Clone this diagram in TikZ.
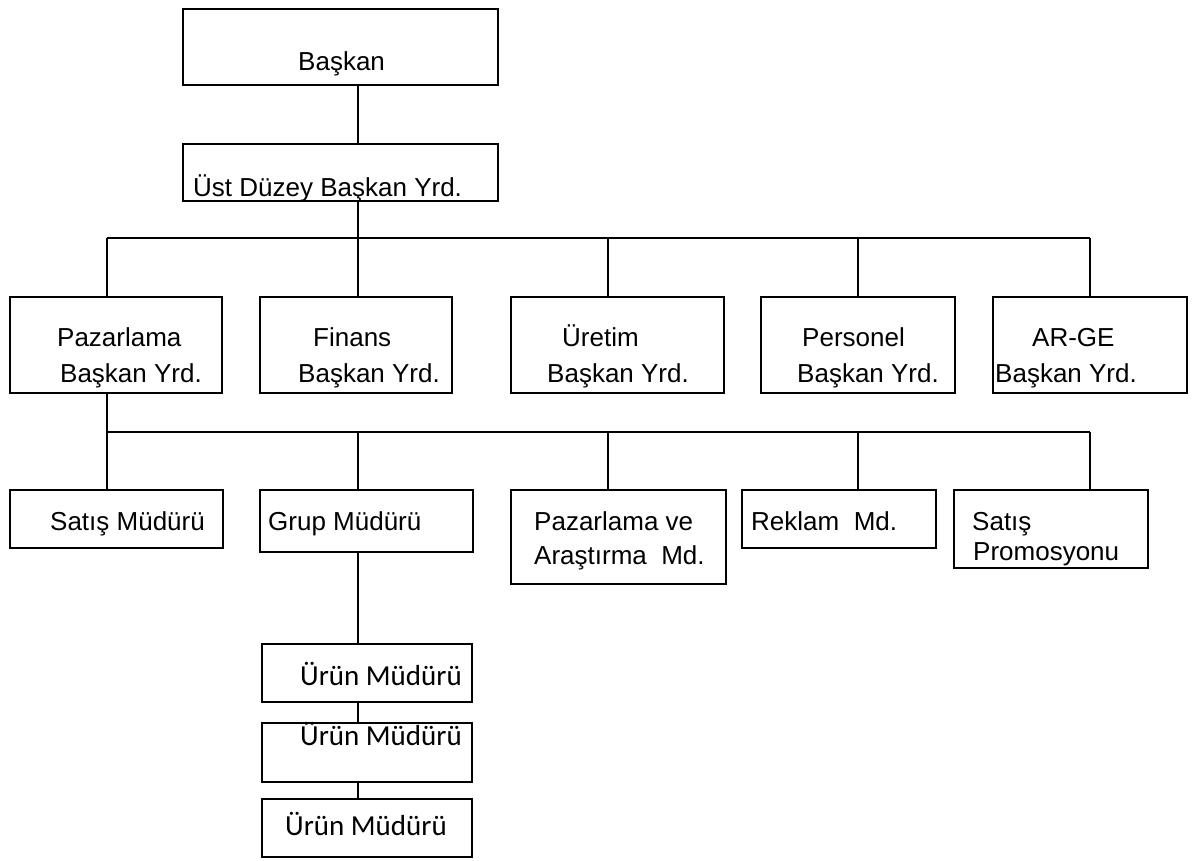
\documentclass[tikz,border=0pt]{standalone}
\usepackage{fontspec}
\setmainfont{Liberation Sans}
\newfontfamily\calibrifont{Carlito}
\usetikzlibrary{fit}
\begin{document}
\begin{tikzpicture}[x=1pt,y=-1pt,
  box/.style={draw, line width=2pt, rectangle, inner sep=0pt},
  lbl/.style={anchor=base west, inner sep=0pt, font=\fontsize{26}{30}\selectfont},
  lblc/.style={anchor=base west, inner sep=0pt, font=\calibrifont\fontsize{29}{32}\selectfont},
  link/.style={line width=2pt}]
\useasboundingbox (0,0) rectangle (1194,860);

% boxes
\node[box, fit={(183,9) (498,85)}]     (bas) {};
\node[box, fit={(183,144) (498,201)}]  (ust) {};
\node[box, fit={(10,297) (222,393)}]   (paz) {};
\node[box, fit={(260,297) (452,393)}]  (fin) {};
\node[box, fit={(511,297) (724,393)}]  (ure) {};
\node[box, fit={(761,297) (955,393)}]  (per) {};
\node[box, fit={(993,297) (1187,393)}] (arg) {};
\node[box, fit={(10,490) (223,548)}]   (sat) {};
\node[box, fit={(260,490) (473,552)}]  (grp) {};
\node[box, fit={(511,490) (726,584)}]  (pva) {};
\node[box, fit={(742,490) (936,548)}]  (rek) {};
\node[box, fit={(954,490) (1148,568)}] (pro) {};
\node[box, fit={(262,644) (472,702)}]  (ur1) {};
\node[box, fit={(262,723) (472,782)}]  (ur2) {};
\node[box, fit={(262,799) (472,857)}]  (ur3) {};

% labels
\node[lbl] (tbas) at (298,70) {Başkan};
\node[lbl] (tust) at (193,196) {Üst Düzey Başkan Yrd.};
\node[lbl] (tpaz1) at (57,346) {Pazarlama};
\node[lbl] (tpaz2) at (60,382) {Başkan Yrd.};
\node[lbl] (tfin1) at (313,346) {Finans};
\node[lbl] (tfin2) at (298,382) {Başkan Yrd.};
\node[lbl] (ture1) at (562,346) {Üretim};
\node[lbl] (ture2) at (547,382) {Başkan Yrd.};
\node[lbl] (tper1) at (802,346) {Personel};
\node[lbl] (tper2) at (797,382) {Başkan Yrd.};
\node[lbl] (targ1) at (1032,346) {AR-GE};
\node[lbl] (targ2) at (995,382) {Başkan Yrd.};
\node[lbl] (tsat) at (50,530) {Satış Müdürü};
\node[lbl] (tgrp) at (268,530) {Grup Müdürü};
\node[lbl] (tpva1) at (534,530) {Pazarlama ve};
\node[lbl] (tpva2) at (534,564) {Araştırma\ \ Md.};
\node[lbl] (trek) at (751,530) {Reklam\ \ Md.};
\node[lbl] (tpro1) at (972,530) {Satış};
\node[lbl] (tpro2) at (973,560) {Promosyonu};
\node[lblc] (tur1) at (300,685) {Ürün Müdürü};
\node[lblc] (tur2) at (300,745) {Ürün Müdürü};
\node[lblc] (tur3) at (285,835) {Ürün Müdürü};

% bus points
\coordinate (b1) at (107,238);
\coordinate (b2) at (358,238);
\coordinate (b3) at (608,238);
\coordinate (b4) at (858,238);
\coordinate (b5) at (1090,238);
\coordinate (d1) at (107,432);
\coordinate (d2) at (358,432);
\coordinate (d3) at (608,432);
\coordinate (d4) at (858,432);
\coordinate (d5) at (1090,432);

% connectors
\draw[link] (bas.south -| b2) -- (ust.north -| b2);
\draw[link] (ust.south -| b2) -- (b2);
\draw[link] (b1) -- (b5);
\draw[link] (b1) -- (paz.north -| b1);
\draw[link] (b2) -- (fin.north -| b2);
\draw[link] (b3) -- (ure.north -| b3);
\draw[link] (b4) -- (per.north -| b4);
\draw[link] (b5) -- (arg.north -| b5);
\draw[link] (paz.south -| d1) -- (d1);
\draw[link] (d1) -- (d5);
\draw[link] (d1) -- (sat.north -| d1);
\draw[link] (d2) -- (grp.north -| d2);
\draw[link] (d3) -- (pva.north -| d3);
\draw[link] (d4) -- (rek.north -| d4);
\draw[link] (d5) -- (pro.north -| d5);
\draw[link] (grp.south -| d2) -- (ur1.north -| d2);
\draw[link] (ur1.south -| d2) -- (ur2.north -| d2);
\draw[link] (ur2.south -| d2) -- (ur3.north -| d2);
\end{tikzpicture}
\end{document}
